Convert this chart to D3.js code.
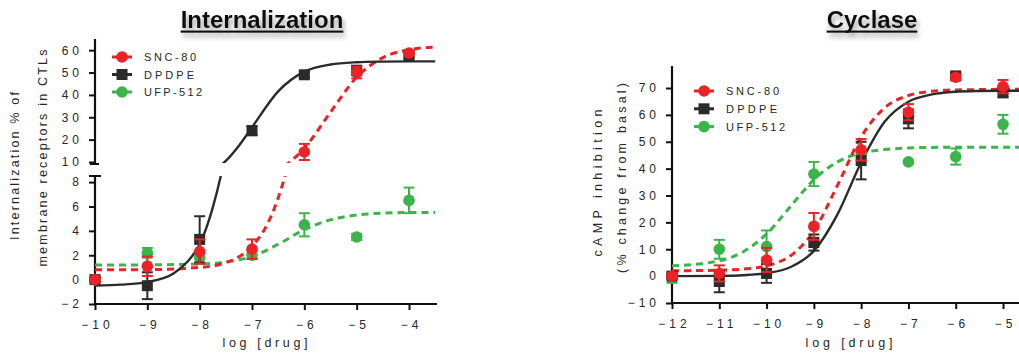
<!DOCTYPE html>
<html lang="en">
<head>
<meta charset="UTF-8">
<script src="https://d3js.org/d3.v7.min.js"></script>
<style>
  body { margin: 0; background: #fff; }
  text { font-family: "Liberation Sans", Arial, sans-serif; fill: #262626; }
</style>
</head>
<body>
<svg width="1019" height="356"></svg>
<script>
// ---- colours
var RED = "#ec2227", BLACK = "#2b2b2b", GREEN = "#3bb54a";

// ---- Internalization (left) data
var intDoses = [-10, -9, -8, -7, -6, -5, -4];
var intSnc   = [0, 1.1, 2.3, 2.5, 14.5, 50, 58.7];
var intSncErr = [0.2, 0.8, 1.0, 0.8, 3.6, 2.6, 1.0];
var intDpdpe = [0, -0.5, 3.3, 24, 49, 51, 57.5];
var intDpdpeErr = [0.2, 1.1, 1.9, 2.0, 1.2, 2.0, 1.0];
var intUfp   = [0, 2.2, 1.8, 2.0, 4.5, 3.5, 6.5];
var intUfpErr = [0.2, 0.4, 0.5, 0.3, 0.95, 0.25, 1.05];

// fitted curves
var intDpdpeFitX = [-10, -9.5, -9, -8.5, -8.25, -8, -7.75, -7.5, -7.25, -7, -6.5, -6, -5.5, -5, -4.5, -4, -3.5];
var intDpdpeFitY = [-0.48, -0.41, -0.2, 0.5, 1.4, 2.9, 5.9, 10.5, 17.3, 25.5, 41.6, 50.4, 53.6, 54.6, 54.9, 55, 55];
var intSncFitX = [-10, -9, -8, -7.5, -7, -6.75, -6.5, -6.25, -6, -5.5, -5, -4.5, -4, -3.5];
var intSncFitY = [0.8, 0.82, 1.0, 1.4, 2.75, 4.2, 6.7, 10.5, 16.2, 32.3, 47.9, 56.7, 60.2, 61.4];
var intUfpFitX = [-10, -9, -8, -7.5, -7, -6.5, -6, -5.5, -5, -4.5, -4, -3.5];
var intUfpFitY = [1.2, 1.21, 1.28, 1.45, 1.9, 2.9, 4.1, 4.9, 5.3, 5.45, 5.5, 5.5];

var intTicksHigh = [10, 20, 30, 40, 50, 60];
var intTicksLow = [-2, 0, 2, 4, 6, 8];

// ---- Cyclase (right) data
var cycDoses = [-12, -11, -10, -9, -8, -7, -6, -5];
var cycSnc   = [0, 1, 6, 18.5, 47, 61, 74, 70.5];
var cycSncErr = [1, 3, 4.5, 5, 4, 3, 1, 2.5];
var cycDpdpe = [0, -2, 1, 12.5, 43, 58.5, 74.5, 68.5];
var cycDpdpeErr = [1, 4, 3.5, 3, 7, 3.5, 1, 2];
var cycUfp   = [-0.5, 10, 11, 38, 46, 42.5, 44.5, 56.5];
var cycUfpErr = [2, 3.5, 6, 4.5, 1, 0.5, 3, 3.5];

var cycFitX = [-12, -11, -10.5, -10, -9.5, -9, -8.5, -8, -7.5, -7, -6.5, -6, -5.5, -5, -4.6];
var cycDpdpeFitY = [0, 0.1, 0.35, 1.1, 3.3, 9.4, 23, 42.3, 57.5, 64.9, 67.6, 68.6, 68.9, 69, 69];
var cycSncFitY = [2, 2.2, 2.6, 3.85, 7.5, 16.8, 33.8, 51.8, 62.7, 67.2, 68.8, 69.3, 69.4, 69.5, 69.5];
var cycUfpFitY = [3.8, 5.7, 9.0, 15.7, 25.8, 35.9, 42.5, 45.8, 47.1, 47.7, 47.9, 48, 48, 48, 48];

var cycTicks = [-10, 0, 10, 20, 30, 40, 50, 60, 70];

var legendNames = ["SNC-80", "DPDPE", "UFP-512"];
var legendColors = [RED, BLACK, GREEN];
var legendShapes = ["circle", "square", "circle"];

var svg = d3.select("svg");
var fmt = d3.format("d");

// drop shadow for the titles
var defs = svg.append("defs");
var f = defs.append("filter").attr("id", "shadow").attr("x", "-20%").attr("y", "-40%").attr("width", "140%").attr("height", "200%");
f.append("feDropShadow").attr("dx", 2).attr("dy", 4).attr("stdDeviation", 2.5)
  .attr("flood-color", "#777").attr("flood-opacity", 0.7);

function title(txt, cx) {
  var g = svg.append("g").attr("filter", "url(#shadow)");
  var t = g.append("text").attr("x", cx).attr("y", 28).attr("text-anchor", "middle")
    .style("font-family", "'Liberation Sans Narrow', 'Liberation Sans', sans-serif")
    .style("font-weight", "bold").style("font-size", "24px").style("fill", "#111").text(txt);
  var w = t.node().getComputedTextLength();
  g.append("rect").attr("x", cx - w / 2).attr("y", 30.5).attr("width", w).attr("height", 2.2).attr("fill", "#111");
}

function spaced(sel, ls) { return sel.style("letter-spacing", ls + "px"); }

// axis titles: fixed length so the spread matches the picture
function label(g, txt, x, y, rot, len) {
  return g.append("text")
    .attr("transform", "translate(" + x + "," + y + ")" + (rot ? " rotate(-90)" : ""))
    .attr("text-anchor", "middle").style("font-size", "12.5px")
    .attr("textLength", len).attr("lengthAdjust", "spacing").text(txt);
}

function marker(g, shape, color, x, y, size) {
  if (shape === "square") {
    g.append("rect").attr("x", x - size).attr("y", y - size).attr("width", size * 2).attr("height", size * 2)
      .attr("fill", color);
  } else {
    g.append("circle").attr("cx", x).attr("cy", y).attr("r", size).attr("fill", color);
  }
}

function errorBars(g, xs, ys, errs, x, yPos, color) {
  xs.forEach(function (d, i) {
    var top = yPos(ys[i] + errs[i]), bot = yPos(ys[i] - errs[i]), cx = x(d);
    g.append("line").attr("x1", cx).attr("x2", cx).attr("y1", top).attr("y2", bot).attr("stroke", color).attr("stroke-width", 2);
    [top, bot].forEach(function (yy) {
      g.append("line").attr("x1", cx - 5.5).attr("x2", cx + 5.5).attr("y1", yy).attr("y2", yy).attr("stroke", color).attr("stroke-width", 2);
    });
  });
}

function points(g, xs, ys, x, yPos, shape, color) {
  xs.forEach(function (d, i) { marker(g, shape, color, x(d), yPos(ys[i]), shape === "square" ? 5.5 : 5.8); });
}

function legend(lx, ly, dy, lens) {
  var g = svg.append("g");
  legendNames.forEach(function (n, i) {
    var y = ly + i * dy;
    g.append("line").attr("x1", lx - 10).attr("x2", lx + 10).attr("y1", y).attr("y2", y).attr("stroke", legendColors[i]).attr("stroke-width", 3);
    marker(g, legendShapes[i], legendColors[i], lx, y, legendShapes[i] === "square" ? 5.5 : 5.8);
    g.append("text").attr("x", lx + 22).attr("y", y + 4).style("font-size", "11px")
      .attr("textLength", lens[i]).attr("lengthAdjust", "spacing").text(n);
  });
}

function styleAxis(a, ls, dx) {
  a.select(".domain").remove();
  a.selectAll(".tick line").attr("stroke", "#111").attr("stroke-width", 2);
  spaced(a.selectAll(".tick text").style("font-size", "12px").style("fill", "#262626"), ls).attr("dx", dx);
}

// ================= LEFT PANEL =================
title("Internalization", 262);

var xL = d3.scaleLinear().domain([-10, -4]).range([95, 409]);
var yLow = d3.scaleLinear().domain([-2, 8.5]).range([304, 176]);
var yHigh = d3.scaleLinear().domain([10, 65]).range([162, 39]);
function yL(v) { return v < 9.2 ? yLow(v) : yHigh(v); }

var gL = svg.append("g");

// axes
var axL1 = gL.append("g").attr("transform", "translate(95,0)")
  .call(d3.axisLeft(yHigh).tickValues(intTicksHigh).tickFormat(fmt).tickSize(6).tickSizeOuter(0).tickPadding(6));
styleAxis(axL1, 4, 0);
var axL2 = gL.append("g").attr("transform", "translate(95,0)")
  .call(d3.axisLeft(yLow).tickValues(intTicksLow).tickFormat(fmt).tickSize(6).tickSizeOuter(0).tickPadding(6));
styleAxis(axL2, 4, 0);
gL.append("line").attr("x1", 95).attr("x2", 95).attr("y1", yHigh(65)).attr("y2", yHigh(10) + 2).attr("stroke", "#111").attr("stroke-width", 2.2);
gL.append("line").attr("x1", 95).attr("x2", 95).attr("y1", yLow(8.5)).attr("y2", 305).attr("stroke", "#111").attr("stroke-width", 2.2);
gL.append("line").attr("x1", 90).attr("x2", 99).attr("y1", yHigh(10) + 2).attr("y2", yHigh(10) + 2).attr("stroke", "#111").attr("stroke-width", 2);
gL.append("line").attr("x1", 89).attr("x2", 101).attr("y1", yLow(8.5)).attr("y2", yLow(8.5)).attr("stroke", "#111").attr("stroke-width", 2);

var axLx = gL.append("g").attr("transform", "translate(0,304)")
  .call(d3.axisBottom(xL).tickValues(intDoses).tickFormat(fmt).tickSize(6).tickSizeOuter(0).tickPadding(10));
styleAxis(axLx, 4, 2);
gL.append("line").attr("x1", 94).attr("x2", 437).attr("y1", 304).attr("y2", 304).attr("stroke", "#111").attr("stroke-width", 2.2);

label(gL, "log [drug]", 265, 347, false, 85);
label(gL, "Internalization % of", 19, 166, true, 148);
label(gL, "membrane receptors in CTLs", 47, 158, true, 217);

// clip regions for the broken axis
defs.append("clipPath").attr("id", "clipLow").append("rect").attr("x", 95).attr("y", 176).attr("width", 345).attr("height", 130);
defs.append("clipPath").attr("id", "clipHigh").append("rect").attr("x", 95).attr("y", 20).attr("width", 345).attr("height", 143);

function fitLine(xs, ys, x, y) {
  return d3.line().x(function (d) { return x(d); }).y(function (d, i) { return y(ys[i]); }).curve(d3.curveMonotoneX)(xs);
}

var intFits = [
  [intUfpFitX, intUfpFitY, GREEN, true],
  [intSncFitX, intSncFitY, RED, true],
  [intDpdpeFitX, intDpdpeFitY, BLACK, false]
];
intFits.forEach(function (c) {
  ["clipLow", "clipHigh"].forEach(function (cp) {
    gL.append("path").attr("clip-path", "url(#" + cp + ")")
      .attr("d", fitLine(c[0], c[1], xL, cp === "clipLow" ? yLow : yHigh))
      .attr("fill", "none").attr("stroke", c[2]).attr("stroke-width", c[3] ? 3 : 2.4)
      .attr("stroke-dasharray", c[3] ? "7,5" : null);
  });
});

errorBars(gL, intDoses, intUfp, intUfpErr, xL, yL, GREEN);
points(gL, intDoses, intUfp, xL, yL, "circle", GREEN);
errorBars(gL, intDoses, intDpdpe, intDpdpeErr, xL, yL, BLACK);
points(gL, intDoses, intDpdpe, xL, yL, "square", BLACK);
errorBars(gL, intDoses, intSnc, intSncErr, xL, yL, RED);
points(gL, intDoses, intSnc, xL, yL, "circle", RED);

legend(122, 57, 17.5, [52, 50, 58]);

// ================= RIGHT PANEL =================
title("Cyclase", 872);

var xR = d3.scaleLinear().domain([-12, -5]).range([672, 1003]);
var yR = d3.scaleLinear().domain([-10, 70]).range([303, 88]);
var gR = svg.append("g");

var axR = gR.append("g").attr("transform", "translate(672,0)")
  .call(d3.axisLeft(yR).tickValues(cycTicks).tickFormat(fmt).tickSize(6).tickSizeOuter(0).tickPadding(6));
styleAxis(axR, 4, 0);
gR.append("line").attr("x1", 672).attr("x2", 672).attr("y1", 66).attr("y2", 304).attr("stroke", "#111").attr("stroke-width", 2.2);
var axRx = gR.append("g").attr("transform", "translate(0,303)")
  .call(d3.axisBottom(xR).tickValues(cycDoses).tickFormat(fmt).tickSize(6).tickSizeOuter(0).tickPadding(10));
styleAxis(axRx, 4, 2);
gR.append("line").attr("x1", 671).attr("x2", 1019).attr("y1", 303).attr("y2", 303).attr("stroke", "#111").attr("stroke-width", 2.2);

label(gR, "log [drug]", 849, 347, false, 87);
label(gR, "cAMP inhibition", 602, 183, true, 147);
label(gR, "(% change from basal)", 626, 178, true, 190);

var cycFits = [
  [cycUfpFitY, GREEN, true],
  [cycSncFitY, RED, true],
  [cycDpdpeFitY, BLACK, false]
];
cycFits.forEach(function (c) {
  gR.append("path").attr("d", fitLine(cycFitX, c[0], xR, yR))
    .attr("fill", "none").attr("stroke", c[1]).attr("stroke-width", c[2] ? 3 : 2.4)
    .attr("stroke-dasharray", c[2] ? "7,5" : null);
});

errorBars(gR, cycDoses, cycUfp, cycUfpErr, xR, yR, GREEN);
points(gR, cycDoses, cycUfp, xR, yR, "circle", GREEN);
errorBars(gR, cycDoses, cycDpdpe, cycDpdpeErr, xR, yR, BLACK);
points(gR, cycDoses, cycDpdpe, xR, yR, "square", BLACK);
errorBars(gR, cycDoses, cycSnc, cycSncErr, xR, yR, RED);
points(gR, cycDoses, cycSnc, xR, yR, "circle", RED);

legend(704, 91, 17.8, [53, 51, 59]);
</script>
</body>
</html>
